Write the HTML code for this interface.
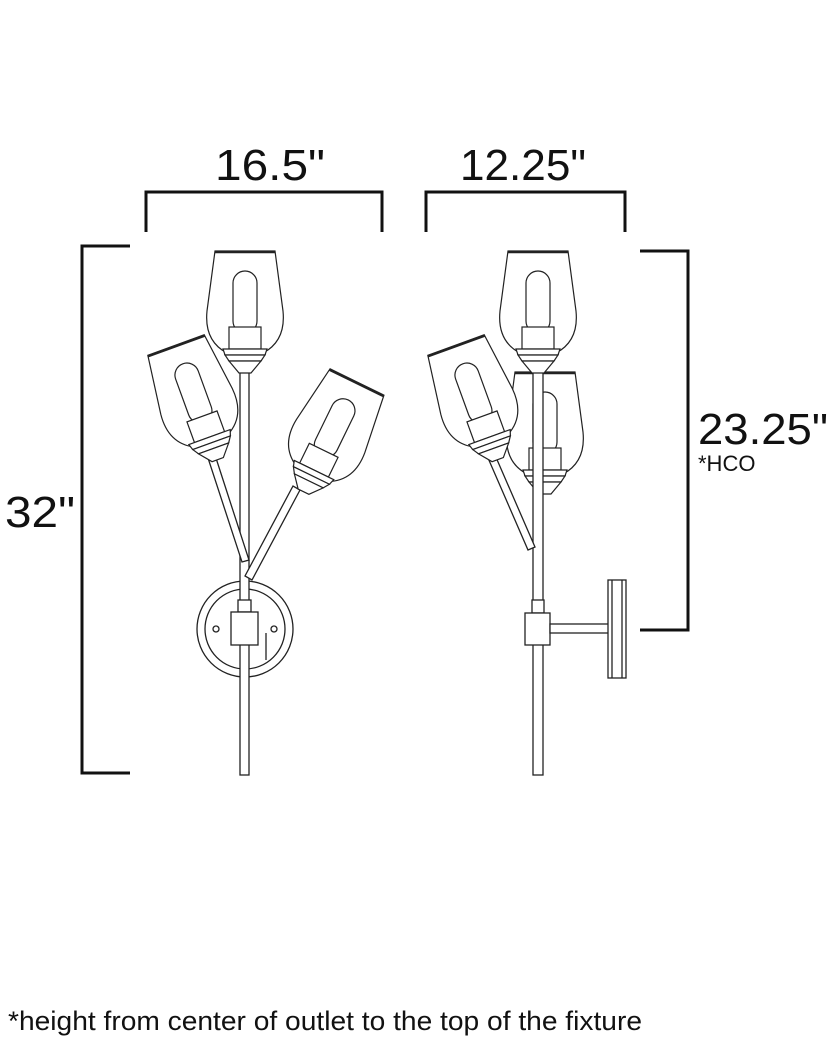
<!DOCTYPE html>
<html><head><style>
html,body{margin:0;padding:0;background:#fff;}
svg{display:block;}
text{font-family:"Liberation Sans",sans-serif;fill:#111;}
</style></head><body>
<svg width="835" height="1042" viewBox="0 0 835 1042" xmlns="http://www.w3.org/2000/svg">
<defs>
<g id="shade" fill="#fff" stroke="#222" stroke-width="1.2">
  <path d="M-30,0 L30,0 L38,60 Q41,90 18,102 L-18,102 Q-41,90 -38,60 Z"/>
  <line x1="-30" y1="1" x2="30" y2="1" stroke-width="2.5"/>
  <rect x="-12" y="20" width="24" height="62" rx="12"/>
  <rect x="-16" y="76" width="32" height="22"/>
  <path d="M-22,98 L22,98 L20,104 L-20,104 Z"/>
  <path d="M-20,104 L20,104 L16,110 L-16,110 Z"/>
  <path d="M-16,110 L16,110 L6,122 L-6,122 Z"/>
</g>
</defs>
<g fill="none" stroke="#111" stroke-width="3">
  <polyline points="146,232 146,192 382,192 382,232"/>
  <polyline points="426,232 426,192 625,192 625,232"/>
  <polyline points="130,246 82,246 82,773 130,773"/>
  <polyline points="640,251 688,251 688,630 640,630"/>
</g>
<text x="270" y="180" font-size="44" text-anchor="middle" textLength="110" lengthAdjust="spacingAndGlyphs">16.5"</text>
<text x="523" y="180" font-size="44" text-anchor="middle" textLength="126" lengthAdjust="spacingAndGlyphs">12.25"</text>
<text x="5" y="527" font-size="44" textLength="70" lengthAdjust="spacingAndGlyphs">32"</text>
<text x="698" y="444" font-size="44" textLength="130" lengthAdjust="spacingAndGlyphs">23.25"</text>
<text x="698" y="471" font-size="22">*HCO</text>
<text x="8" y="1030" font-size="27" textLength="634" lengthAdjust="spacingAndGlyphs">*height from center of outlet to the top of the fixture</text>

<!-- LEFT fixture -->
<g stroke="#222" stroke-width="1.3" fill="#fff">
  <circle cx="245" cy="629" r="48"/>
  <circle cx="245" cy="629" r="40"/>
  <circle cx="216" cy="629" r="3"/>
  <circle cx="274" cy="629" r="3"/>
  <line x1="266" y1="633" x2="266" y2="660"/>
  <rect x="240" y="372" width="9" height="403"/>
  <path d="M215,455 L249,560 L242,562 L208,458 Z"/>
  <path d="M300,490 L252,580 L245,576 L293,486 Z"/>
  <rect x="238" y="600" width="13" height="12"/>
  <rect x="231" y="612" width="27" height="33"/>
  <use href="#shade" transform="translate(176,345) rotate(-20)"/>
  <use href="#shade" transform="translate(357,382) rotate(26)"/>
  <use href="#shade" transform="translate(245,251)"/>
</g>

<!-- RIGHT fixture -->
<g stroke="#222" stroke-width="1.3" fill="#fff">
  <use href="#shade" transform="translate(545,372)"/>
  <rect x="533" y="372" width="10" height="403"/>
  <path d="M495,455 L535,547 L528,550 L488,458 Z"/>
  <rect x="532" y="600" width="12" height="13"/>
  <rect x="525" y="613" width="25" height="32"/>
  <rect x="550" y="624" width="60" height="9"/>
  <rect x="608" y="580" width="18" height="98"/>
  <line x1="612" y1="580" x2="612" y2="678"/>
  <line x1="622" y1="580" x2="622" y2="678"/>
  <use href="#shade" transform="translate(456,345) rotate(-20)"/>
  <use href="#shade" transform="translate(538,251)"/>
</g>
</svg>
</body></html>
